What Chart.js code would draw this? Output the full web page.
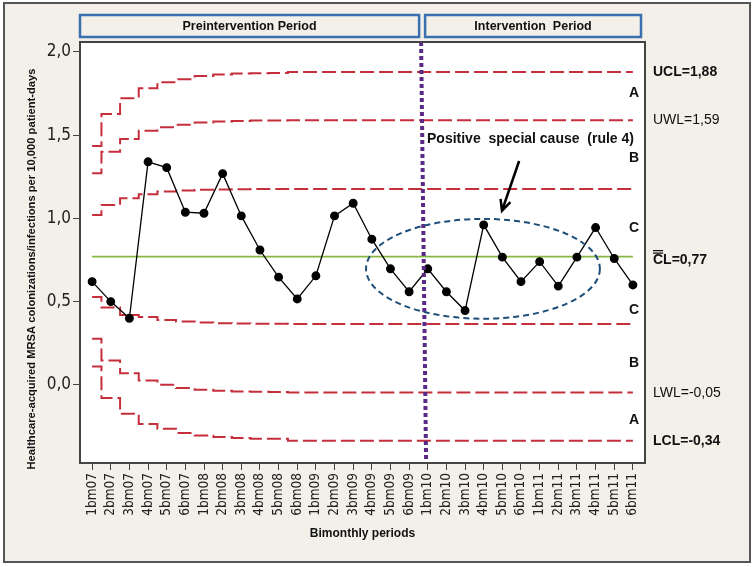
<!DOCTYPE html>
<html>
<head>
<meta charset="utf-8">
<script src="https://cdn.jsdelivr.net/npm/chart.js@4.4.1/dist/chart.umd.min.js"></script>
<style>
  html, body { margin: 0; padding: 0; background: #fff; }
</style>
</head>
<body>
<canvas id="chart" width="755" height="567"></canvas>
<script>
const periods = [
    '1bm07', '2bm07', '3bm07', '4bm07', '5bm07', '6bm07',
    '1bm08', '2bm08', '3bm08', '4bm08', '5bm08', '6bm08',
    '1bm09', '2bm09', '3bm09', '4bm09', '5bm09', '6bm09',
    '1bm10', '2bm10', '3bm10', '4bm10', '5bm10', '6bm10',
    '1bm11', '2bm11', '3bm11', '4bm11', '5bm11', '6bm11'
];

// MRSA rate per 10,000 patient-days, one per bimonthly period
const rates = [
    0.62, 0.50, 0.40, 1.34, 1.305, 1.037,
    1.031, 1.269, 1.015, 0.81, 0.647, 0.516,
    0.655, 1.015, 1.091, 0.875, 0.697, 0.559,
    0.697, 0.559, 0.446, 0.961, 0.767, 0.62,
    0.74, 0.593, 0.767, 0.945, 0.759, 0.60
];

const CL = 0.77;

// limits per period (they narrow as the baseline grows)
const ucl = [
    1.435, 1.628, 1.722, 1.782, 1.818, 1.836, 1.856, 1.864, 1.870, 1.872,
    1.874, 1.88, 1.88, 1.88, 1.88, 1.88, 1.88, 1.88, 1.88, 1.88,
    1.88, 1.88, 1.88, 1.88, 1.88, 1.88, 1.88, 1.88, 1.88, 1.88
];
const uwl = [
    1.271, 1.401, 1.477, 1.527, 1.548, 1.562, 1.576, 1.582, 1.586, 1.588,
    1.589, 1.59, 1.59, 1.59, 1.59, 1.59, 1.59, 1.59, 1.59, 1.59,
    1.59, 1.59, 1.59, 1.59, 1.59, 1.59, 1.59, 1.59, 1.59, 1.59
];
const upperC = [
    1.021, 1.081, 1.121, 1.145, 1.161, 1.168, 1.172, 1.174, 1.175, 1.176,
    1.176, 1.177, 1.177, 1.177, 1.177, 1.177, 1.177, 1.177, 1.177, 1.177,
    1.177, 1.177, 1.177, 1.177, 1.177, 1.177, 1.177, 1.177, 1.177, 1.177
];
const lowerC = [
    0.527, 0.464, 0.420, 0.407, 0.390, 0.380, 0.374, 0.370, 0.368, 0.367,
    0.367, 0.366, 0.366, 0.366, 0.366, 0.366, 0.366, 0.366, 0.366, 0.366,
    0.366, 0.366, 0.366, 0.366, 0.366, 0.366, 0.366, 0.366, 0.366, 0.366
];
const lwl = [
    0.276, 0.146, 0.070, 0.026, 0.000, -0.020, -0.030, -0.036, -0.040, -0.042,
    -0.044, -0.047, -0.047, -0.047, -0.047, -0.047, -0.047, -0.047, -0.047, -0.047,
    -0.047, -0.047, -0.047, -0.047, -0.047, -0.047, -0.047, -0.047, -0.047, -0.047
];
const lcl = [
    0.110, -0.080, -0.174, -0.236, -0.264, -0.290, -0.304, -0.314, -0.320, -0.324,
    -0.324, -0.336, -0.336, -0.336, -0.336, -0.336, -0.336, -0.336, -0.336, -0.336,
    -0.336, -0.336, -0.336, -0.336, -0.336, -0.336, -0.336, -0.336, -0.336, -0.336
];

const yTicks = [0, 0.5, 1.0, 1.5, 2.0];

const limitLabels = [
    { text: 'UCL=1,88', value: 1.88, bold: true },
    { text: 'UWL=1,59', value: 1.59, bold: false },
    { text: 'CL=0,77', value: 0.77, bold: true, bar: true },
    { text: 'LWL=-0,05', value: -0.05, bold: false },
    { text: 'LCL=-0,34', value: -0.34, bold: true }
];
const zoneLetters = [
    { text: 'A', value: 1.75 }, { text: 'B', value: 1.36 }, { text: 'C', value: 0.94 },
    { text: 'C', value: 0.45 }, { text: 'B', value: 0.13 }, { text: 'A', value: -0.21 }
];

// where the intervention starts (between 6bm09 and 1bm10)
const interventionAt = 17.75;
// rule 4 run highlighted by the ellipse
const highlight = { x: 20.96, y: 0.697, rx: 6.27, ry: 0.30 };
const arrowFrom = { x: 22.9, y: 1.345 };
const arrowTo = { x: 21.98, y: 1.046 };

const SANS = "'Liberation Sans', Arial, sans-serif";
const TICKFONT = "'DejaVu Sans Condensed', 'Liberation Sans', sans-serif";

function limitLine(values) {
    return {
        data: values.map((v, i) => ({ x: i, y: v })),
        borderColor: '#c52f3c',
        borderWidth: 2,
        borderDash: [14, 5],
        stepped: 'middle',
        pointRadius: 0,
        fill: false
    };
}

const decorations = {
    id: 'decorations',
    beforeDraw(chart) {
        const ctx = chart.ctx, a = chart.chartArea;
        ctx.save();
        ctx.fillStyle = '#fff';
        ctx.fillRect(0, 0, chart.width, chart.height);
        ctx.fillStyle = '#f2f0e9';
        ctx.fillRect(4, 3, 746, 559);
        ctx.strokeStyle = '#555';
        ctx.lineWidth = 2;
        ctx.strokeRect(4, 3, 746, 559);
        ctx.fillStyle = '#fff';
        ctx.fillRect(a.left, a.top, a.right - a.left, a.bottom - a.top);
        ctx.restore();
    },
    afterDatasetsDraw(chart) {
        const ctx = chart.ctx, a = chart.chartArea;
        const xs = chart.scales.x, ys = chart.scales.y;
        ctx.save();

        // intervention divider
        const dx = xs.getPixelForValue(interventionAt);
        ctx.strokeStyle = '#5b2a86';
        ctx.lineWidth = 4;
        ctx.setLineDash([4, 3]);
        ctx.beginPath();
        ctx.moveTo(dx - 2, a.top);
        ctx.lineTo(dx + 3, a.bottom);
        ctx.stroke();

        // ellipse
        const cx = xs.getPixelForValue(highlight.x), cy = ys.getPixelForValue(highlight.y);
        const rx = xs.getPixelForValue(highlight.x + highlight.rx) - cx;
        const ry = cy - ys.getPixelForValue(highlight.y + highlight.ry);
        ctx.strokeStyle = '#1f4e79';
        ctx.lineWidth = 2;
        ctx.setLineDash([6, 4]);
        ctx.beginPath();
        ctx.ellipse(cx, cy, rx, ry, 0, 0, Math.PI * 2);
        ctx.stroke();

        // arrow
        const x1 = xs.getPixelForValue(arrowFrom.x), y1 = ys.getPixelForValue(arrowFrom.y);
        const x2 = xs.getPixelForValue(arrowTo.x), y2 = ys.getPixelForValue(arrowTo.y);
        const ang = Math.atan2(y2 - y1, x2 - x1);
        ctx.setLineDash([]);
        ctx.strokeStyle = '#000';
        ctx.lineWidth = 2.5;
        ctx.beginPath();
        ctx.moveTo(x1, y1);
        ctx.lineTo(x2, y2);
        ctx.moveTo(x2 - 12 * Math.cos(ang - 0.45), y2 - 12 * Math.sin(ang - 0.45));
        ctx.lineTo(x2, y2);
        ctx.lineTo(x2 - 12 * Math.cos(ang + 0.45), y2 - 12 * Math.sin(ang + 0.45));
        ctx.stroke();
        ctx.restore();
    },
    afterDraw(chart) {
        const ctx = chart.ctx, a = chart.chartArea;
        const xs = chart.scales.x, ys = chart.scales.y;
        const dx = xs.getPixelForValue(interventionAt);
        ctx.save();

        // plot frame
        ctx.strokeStyle = '#444';
        ctx.lineWidth = 2;
        ctx.strokeRect(a.left, a.top, a.right - a.left, a.bottom - a.top);

        // period header boxes
        ctx.strokeStyle = '#3a6fb0';
        ctx.lineWidth = 2.5;
        ctx.fillStyle = '#f2f0e9';
        const boxes = [
            { l: a.left, r: dx - 4, text: 'Preintervention Period' },
            { l: dx + 2, r: a.right - 4, text: 'Intervention  Period' }
        ];
        boxes.forEach(b => {
            ctx.fillRect(b.l, 15, b.r - b.l, 22);
            ctx.strokeRect(b.l, 15, b.r - b.l, 22);
        });
        ctx.fillStyle = '#111';
        ctx.font = 'bold 12.5px ' + SANS;
        ctx.textAlign = 'center';
        ctx.textBaseline = 'middle';
        boxes.forEach(b => ctx.fillText(b.text, (b.l + b.r) / 2, 26.5));

        // annotation
        ctx.textAlign = 'left';
        ctx.font = 'bold 14px ' + SANS;
        ctx.fillText('Positive  special cause  (rule 4)', 427, 139);

        // zone letters
        ctx.textAlign = 'center';
        zoneLetters.forEach(z => ctx.fillText(z.text, 634, ys.getPixelForValue(z.value)));

        // limit labels on the right
        ctx.textAlign = 'left';
        limitLabels.forEach(l => {
            ctx.font = (l.bold ? 'bold ' : '') + '14px ' + SANS;
            const y = ys.getPixelForValue(l.value) + (l.bar ? 3 : 0);
            ctx.fillText(l.text, 653, y);
            if (l.bar) {
                const w = ctx.measureText('C').width;
                ctx.strokeStyle = '#111';
                ctx.lineWidth = 1.2;
                ctx.beginPath();
                ctx.moveTo(653, y - 6.5); ctx.lineTo(653 + w, y - 6.5);
                ctx.moveTo(653, y - 9); ctx.lineTo(653 + w, y - 9);
                ctx.stroke();
            }
        });

        // y axis title
        ctx.translate(32, 269);
        ctx.rotate(-Math.PI / 2);
        ctx.textAlign = 'center';
        ctx.font = 'bold 11.2px ' + SANS;
        ctx.fillText('Healthcare-acquired MRSA colonizations/infections per 10,000 patient-days', 0, 0);
        ctx.restore();
    }
};

new Chart(document.getElementById('chart'), {
    type: 'line',
    data: {
        datasets: [
            {
                data: rates.map((v, i) => ({ x: i, y: v })),
                borderColor: '#000',
                borderWidth: 1.3,
                pointRadius: 3.8,
                pointBackgroundColor: '#000',
                pointBorderColor: '#000',
                fill: false
            },
            {
                data: periods.map((p, i) => ({ x: i, y: CL })),
                borderColor: '#86b83f',
                borderWidth: 1.6,
                pointRadius: 0
            },
            limitLine(ucl),
            limitLine(uwl),
            limitLine(upperC),
            limitLine(lowerC),
            limitLine(lwl),
            limitLine(lcl)
        ]
    },
    options: {
        responsive: false,
        animation: false,
        devicePixelRatio: 1,
        layout: { padding: { top: 42, right: 110, bottom: 0, left: 0 } },
        plugins: { legend: { display: false }, tooltip: { enabled: false } },
        scales: {
            x: {
                type: 'linear',
                min: -0.65,
                max: 29.65,
                afterFit: s => { s.height = 104; },
                afterBuildTicks: s => { s.ticks = periods.map((p, i) => ({ value: i })); },
                ticks: {
                    autoSkip: false,
                    maxRotation: 90,
                    minRotation: 90,
                    padding: 3,
                    color: '#222',
                    font: { family: TICKFONT, size: 13.5 },
                    callback: v => periods[v]
                },
                grid: { drawOnChartArea: false, drawTicks: true, tickLength: 7, color: '#444' },
                border: { display: false },
                title: {
                    display: true,
                    text: 'Bimonthly periods',
                    color: '#111',
                    font: { family: SANS, size: 12, weight: 'bold' },
                    padding: { top: 0, bottom: 26 }
                }
            },
            y: {
                min: -0.47,
                max: 2.06,
                afterFit: s => { s.width = 80; },
                afterBuildTicks: s => { s.ticks = yTicks.map(v => ({ value: v })); },
                ticks: {
                    padding: 2,
                    color: '#222',
                    font: { family: TICKFONT, size: 17 },
                    callback: v => v.toFixed(1).replace('.', ',')
                },
                grid: { drawOnChartArea: false, drawTicks: true, tickLength: 7, color: '#444' },
                border: { display: false }
            }
        }
    },
    plugins: [decorations]
});
</script>
</body>
</html>
